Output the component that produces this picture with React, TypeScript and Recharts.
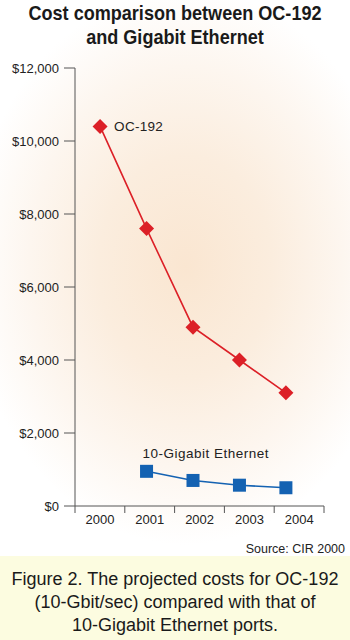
import { LineChart, Line, XAxis, YAxis, LabelList } from "recharts";

const years = [2000, 2001, 2002, 2003, 2004];
const oc192 = [10400, 7600, 4900, 4000, 3100];
const gigE = [null, 950, 700, 570, 500];
const yTicks = [0, 2000, 4000, 6000, 8000, 10000, 12000];
const yearBounds = [1999.5, 2000.5, 2001.5, 2002.5, 2003.5, 2004.5];

const data = years.map((year, i) => ({ year, oc192: oc192[i], gigE: gigE[i] }));

const RED = "#dc2027";
const BLUE = "#1462b2";
const sans = "'Liberation Sans', Arial, Helvetica, sans-serif";

const YearTick = ({ x, y, payload }: any) => {
  if (payload.value > 2004) return <g />;
  return (
    <text x={x + 25} y={y} dy="0.71em" textAnchor="middle" fill="#222" fontSize={13} fontFamily={sans}>
      {payload.value + 0.5}
    </text>
  );
};

const Diamond = ({ cx, cy, index }: any) => {
  if (cx == null || cy == null) return <g key={index} />;
  const r = 7.5;
  return (
    <path
      key={index}
      d={`M${cx},${cy - r}L${cx + r},${cy}L${cx},${cy + r}L${cx - r},${cy}Z`}
      fill={RED}
    />
  );
};

const Square = ({ cx, cy, index }: any) => {
  if (cx == null || cy == null) return <g key={index} />;
  return <rect key={index} x={cx - 6.5} y={cy - 6.5} width={13} height={13} fill={BLUE} />;
};

const OcLabel = ({ x, y, index }: any) =>
  index === 0 ? (
    <text x={x + 14} y={y} dominantBaseline="central" fontSize={13.5} letterSpacing={0.3} fontFamily={sans} fill="#222">
      OC-192
    </text>
  ) : null;

const EthLabel = ({ x, y, index }: any) =>
  index === 1 ? (
    <text x={x - 4} y={y - 13} fontSize={13.5} letterSpacing={0.5} fontFamily={sans} fill="#222">
      10-Gigabit Ethernet
    </text>
  ) : null;

export default function App() {
  return (
    <div style={{ position: "fixed", left: 0, top: 0, width: 350, height: 640, background: "#fff", overflow: "hidden" }}>
      <div
        style={{
          position: "absolute",
          left: 0,
          top: 0,
          width: 350,
          height: 556,
          background:
            "radial-gradient(ellipse 62% 50% at 53% 48%, #fae6d1 0%, #fbedde 40%, #fdf6ef 72%, #ffffff 100%)",
        }}
      />
      <div
        style={{
          position: "absolute",
          top: 1,
          left: -25,
          width: 400,
          textAlign: "center",
          fontFamily: sans,
          fontWeight: "bold",
          fontSize: 21,
          lineHeight: "24px",
          color: "#1a1a1a",
          transform: "scaleX(0.86)",
        }}
      >
        Cost comparison between OC-192
        <br />
        and Gigabit Ethernet
      </div>
      <div style={{ position: "absolute", top: 0, left: 0 }}>
        <LineChart width={350} height={556} data={data} margin={{ top: 68, right: 26, bottom: 20, left: 0 }}>
          <XAxis
            xAxisId="axis"
            type="number"
            dataKey="year"
            domain={[1999.5, 2004.5]}
            ticks={yearBounds}
            tick={<YearTick />}
            tickSize={7}
            tickMargin={2}
            height={30}
            stroke="#555"
            interval={0}
            allowDataOverflow
          />
          <XAxis xAxisId="pts" type="number" dataKey="year" domain={[1999.46, 2004.82]} hide allowDataOverflow />
          <YAxis
            domain={[0, 12000]}
            ticks={yTicks}
            width={75}
            tickSize={11}
            tickMargin={5}
            stroke="#555"
            tick={{ fill: "#222", fontSize: 13, fontFamily: sans }}
            tickFormatter={(v: number) => "$" + v.toLocaleString("en-US")}
            interval={0}
          />
          <Line
            xAxisId="pts"
            dataKey="oc192"
            stroke={RED}
            strokeWidth={1.6}
            dot={Diamond}
            activeDot={false}
            isAnimationActive={false}
          >
            <LabelList dataKey="oc192" content={OcLabel} />
          </Line>
          <Line
            xAxisId="pts"
            dataKey="gigE"
            stroke={BLUE}
            strokeWidth={1.6}
            dot={Square}
            activeDot={false}
            isAnimationActive={false}
          >
            <LabelList dataKey="gigE" content={EthLabel} />
          </Line>
        </LineChart>
      </div>
      <div
        style={{
          position: "absolute",
          top: 541,
          right: 5,
          fontFamily: sans,
          fontSize: 12.5,
          color: "#222",
          lineHeight: "16px",
        }}
      >
        Source: CIR 2000
      </div>
      <div
        style={{
          position: "absolute",
          top: 556,
          left: 0,
          width: 350,
          height: 84,
          background: "#fcfce0",
          textAlign: "center",
          fontFamily: sans,
          fontSize: 18,
          lineHeight: "23px",
          color: "#1a1a1a",
          paddingTop: 12,
          boxSizing: "border-box",
        }}
      >
        Figure 2. The projected costs for OC-192
        <br />
        (10-Gbit/sec) compared with that of
        <br />
        10-Gigabit Ethernet ports.
      </div>
    </div>
  );
}
